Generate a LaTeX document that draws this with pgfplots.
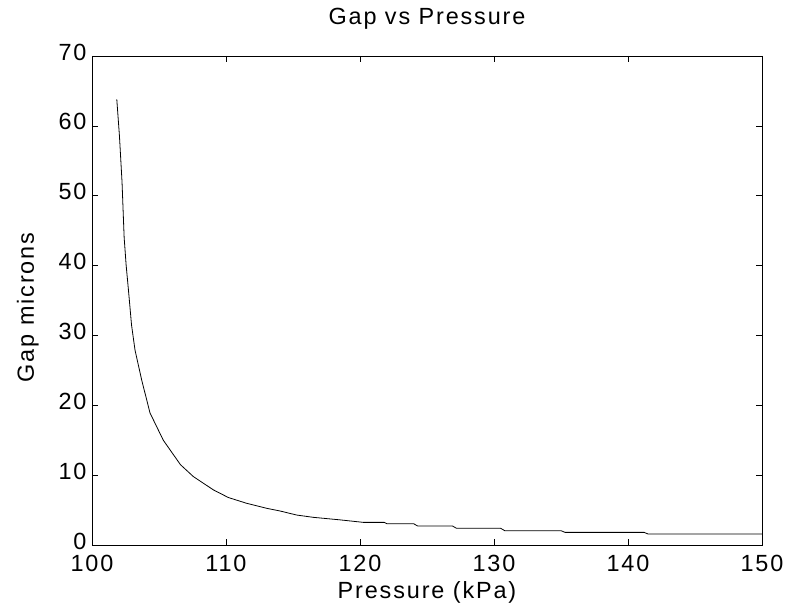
\documentclass[border=0pt]{standalone}
\usepackage{fontspec}
\setmainfont{Liberation Sans}[LetterSpace=8]
\usepackage{pgfplots}
\pgfplotsset{compat=1.18}
\begin{document}
\begin{tikzpicture}
\begin{axis}[
    name=ax,
    scale only axis,
    width=670bp, height=489bp,
    xmin=100, xmax=150,
    ymin=0, ymax=70,
    xtick={100,110,120,130,140,150},
    ytick={0,10,20,30,40,50,60,70},
    tick pos=both,
    tick align=inside,
    major tick length=6bp,
    axis line style={black, line width=0.9pt},
    tick style={black, line width=0.7pt},
    every tick label/.append style={font=\fontsize{23.5}{27}\selectfont},
    /pgf/number format/assume math mode=true,
    xticklabel style={yshift=-7bp},
    yticklabel style={xshift=-2bp, yshift=4bp},
    clip=false,
]
% gap (microns) against pressure (kPa)
\addplot[black, line width=0.8pt] coordinates {
    (101.85,63.8) (102.05,58.5) (102.24,52.0) (102.40,44.0) (102.55,40.0)
    (102.72,36.5) (102.95,31.5) (103.21,27.9) (103.71,23.6) (104.33,18.9)
    (105.32,15.0) (106.6,11.5) (107.56,9.8) (109.05,7.9) (110.17,6.8)
    (111.54,5.97) (113.04,5.25) (114.03,4.87) (115.27,4.29) (116.52,3.96)
    (118.5,3.6) (120.25,3.24) (121.8,3.24) (122.0,3.05) (124.0,3.05)
    (124.3,2.72) (126.9,2.72) (127.2,2.39) (130.5,2.39) (130.8,2.05)
    (135.0,2.05) (135.3,1.81) (141.2,1.81) (141.5,1.57) (150,1.57)
};
\end{axis}
\node[anchor=base, font=\fontsize{23.5}{27}\selectfont] at ([yshift=-53bp]ax.south) {Pressure (kPa)};
\node[anchor=base, font=\fontsize{23.5}{27}\selectfont] at ([yshift=31bp]ax.north) {Gap vs Pressure};
\node[anchor=base, rotate=90, font=\fontsize{23.5}{27}\selectfont] at ([xshift=-58bp, yshift=-7bp]ax.west) {Gap microns};
\path ([shift={(-92bp,-68bp)}]ax.south west) rectangle ([shift={(27bp,56bp)}]ax.north east);
\end{tikzpicture}
\end{document}
